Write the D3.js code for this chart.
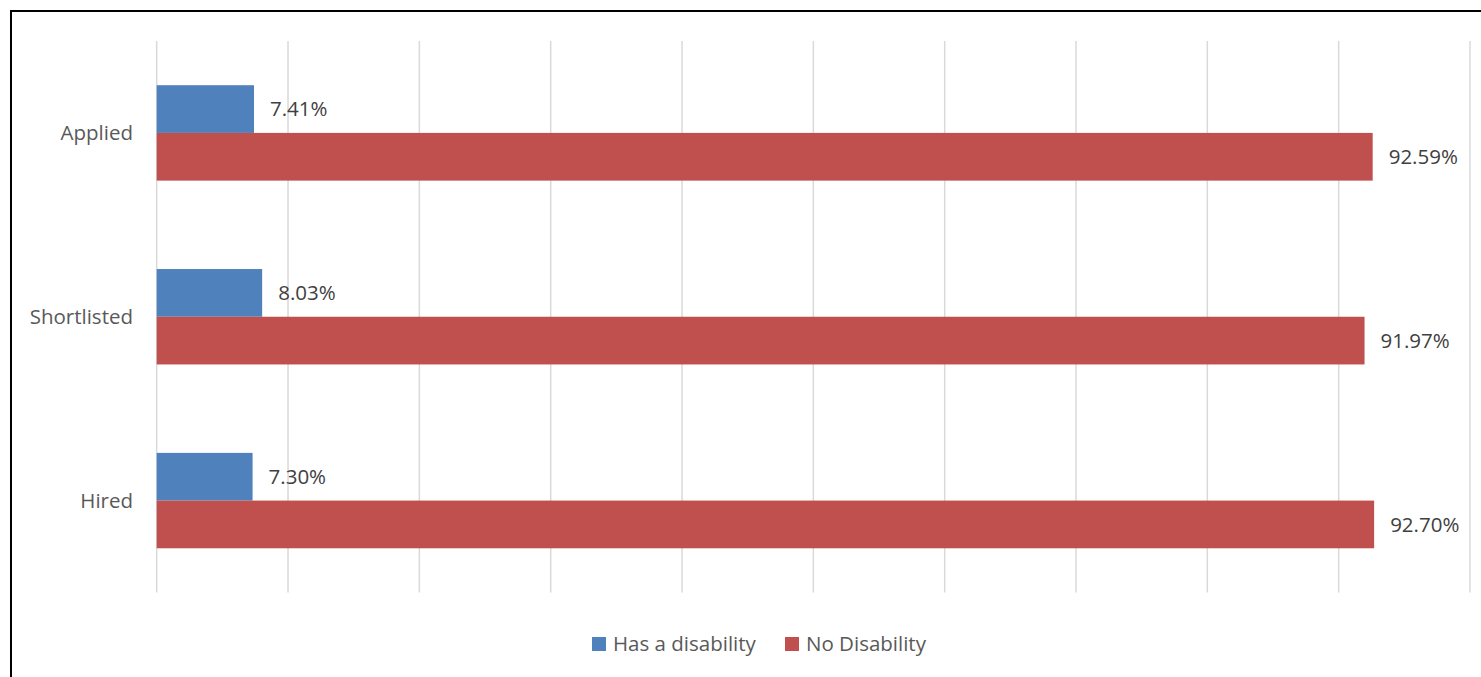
<!DOCTYPE html>
<html>
<head>
<meta charset="utf-8">
<script src="https://cdn.jsdelivr.net/npm/d3@7"></script>
<style>
  html, body { margin: 0; padding: 0; background: #fff; }
  svg { display: block; font-family: "Open Sans", sans-serif; }
</style>
</head>
<body>
<svg id="chart" width="1481" height="677"></svg>
<script>
const categories = ["Applied", "Shortlisted", "Hired"];
const seriesNames = ["Has a disability", "No Disability"];
const hasDisability = [7.41, 8.03, 7.30];
const noDisability = [92.59, 91.97, 92.70];
const xTicks = [0, 10, 20, 30, 40, 50, 60, 70, 80, 90, 100];
const colors = ["#4F81BD", "#C0504D"];

const svg = d3.select("#chart");
const W = 1481, H = 677;
const FS = 20.5;

// outer border (extends past right/bottom edges)
svg.append("rect")
  .attr("x", 11).attr("y", 11)
  .attr("width", W).attr("height", H)
  .attr("fill", "none").attr("stroke", "#000").attr("stroke-width", 2);

const x = d3.scaleLinear().domain([0, 100]).range([156.7, 1470]);
const y = d3.scaleBand().domain(categories).range([41, 592.5]).paddingInner(0.481).paddingOuter(0.2405);
const ySub = d3.scaleBand().domain(seriesNames).range([0, y.bandwidth()]);

// gridlines
svg.append("g").selectAll("line").data(xTicks).join("line")
  .attr("x1", d => x(d)).attr("x2", d => x(d))
  .attr("y1", 41).attr("y2", 592.5)
  .attr("stroke", "#D9D9D9").attr("stroke-width", 1.5);

const rows = categories.map((c, i) => ({
  cat: c,
  vals: [
    { s: seriesNames[0], v: hasDisability[i], c: colors[0] },
    { s: seriesNames[1], v: noDisability[i], c: colors[1] }
  ]
}));

const g = svg.append("g").selectAll("g").data(rows).join("g")
  .attr("transform", d => `translate(0,${y(d.cat)})`);

g.selectAll("rect").data(d => d.vals).join("rect")
  .attr("x", x(0))
  .attr("y", d => ySub(d.s))
  .attr("width", d => x(d.v) - x(0))
  .attr("height", ySub.bandwidth())
  .attr("fill", d => d.c);

g.selectAll("text.lbl").data(d => d.vals).join("text")
  .attr("class", "lbl")
  .attr("x", d => x(d.v) + 16)
  .attr("y", d => ySub(d.s) + ySub.bandwidth() / 2)
  .attr("dy", "0.35em")
  .attr("font-size", FS)
  .attr("fill", "#404040")
  .text(d => d.v.toFixed(2) + "%");

// category axis labels
svg.append("g").selectAll("text").data(categories).join("text")
  .attr("x", 133)
  .attr("y", d => y(d) + y.bandwidth() / 2)
  .attr("dy", "0.35em")
  .attr("text-anchor", "end")
  .attr("font-size", FS)
  .attr("fill", "#595959")
  .text(d => d);

// legend
const legendItems = [
  { name: seriesNames[0], color: colors[0], x: 592 },
  { name: seriesNames[1], color: colors[1], x: 785 }
];
const lg = svg.append("g").selectAll("g").data(legendItems).join("g")
  .attr("transform", d => `translate(${d.x},637)`);
lg.append("rect").attr("width", 14).attr("height", 14).attr("fill", d => d.color);
lg.append("text")
  .attr("x", 21).attr("y", 7).attr("dy", "0.35em")
  .attr("font-size", FS).attr("fill", "#595959")
  .text(d => d.name);
</script>
</body>
</html>
